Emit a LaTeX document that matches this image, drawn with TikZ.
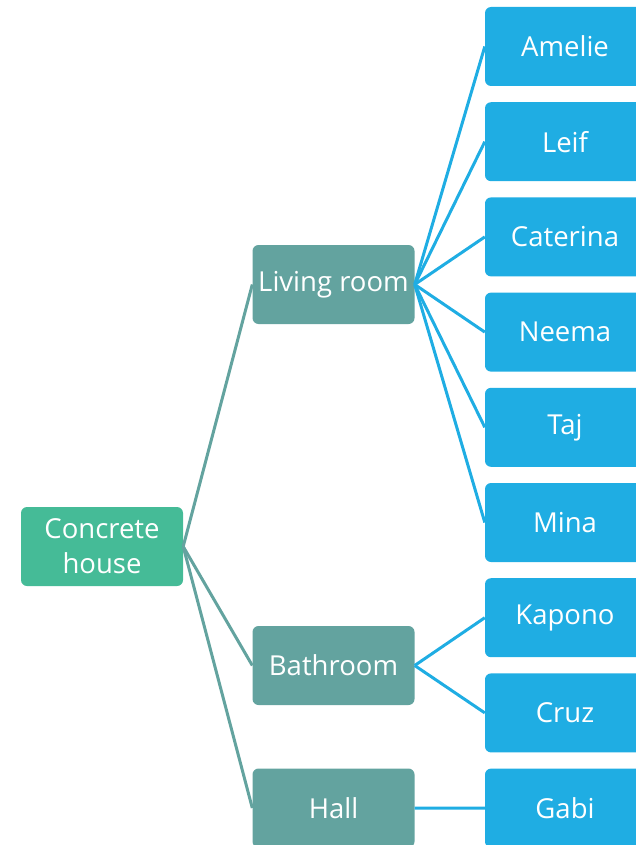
\documentclass[tikz,border=0pt]{standalone}
\usepackage{fontspec}
\setmainfont{Open Sans}
\definecolor{housegreen}{RGB}{69,187,151}
\definecolor{roomteal}{RGB}{99,163,159}
\definecolor{nameblue}{RGB}{31,173,227}
\begin{document}
\begin{tikzpicture}[x=1pt,y=-1pt,
    box/.style={rounded corners=6pt, minimum width=162pt, minimum height=79pt,
        inner sep=0pt, text=white, align=center, font=\fontsize{27.5}{35}\selectfont},
    house/.style={box, fill=housegreen},
    room/.style={box, fill=roomteal},
    person/.style={box, fill=nameblue, minimum width=160pt},
    roomline/.style={line width=3pt, roomteal},
    personline/.style={line width=3pt, nameblue}]
                % Frame of the picture
                \useasboundingbox (0,0) rectangle (636,845);
                \clip (0,0) rectangle (636,845);

                % Root and rooms
                \node[house] (house) at (102,546.5) {Concrete\\house};
                \node[room] (living) at (333.5,284.5) {Living room};
                \node[room] (bath) at (333.5,665.5) {Bathroom};
                \node[room] (hall) at (333.5,808) {Hall};

                % People, one column
                \foreach \who [count=\i from 0] in {Amelie,Leif,Caterina,Neema,Taj,Mina,Kapono,Cruz,Gabi} {
                    \node[person] (\who) at (565,46.5+95.2*\i) {\who};
                }

                % House to rooms
                \foreach \r in {living,bath,hall} {
                    \draw[roomline] (house.east) -- (\r.west);
                }

                % Rooms to people
                \foreach \who in {Amelie,Leif,Caterina,Neema,Taj,Mina} {
                    \draw[personline] (living.east) -- (\who.west);
                }
                \draw[personline] (bath.east) -- (Kapono.west);
                \draw[personline] (bath.east) -- (Cruz.west);
                \draw[personline] (hall.east) -- (Gabi.west);
            \end{tikzpicture}
\end{document}
